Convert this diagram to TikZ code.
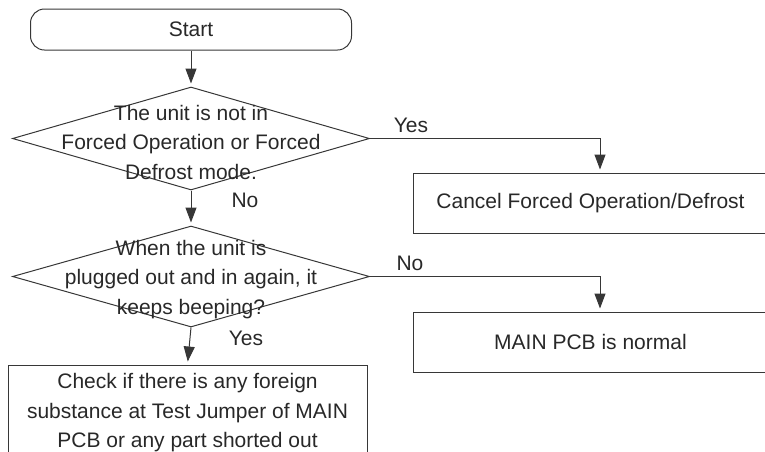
\documentclass[tikz,border=0pt]{standalone}
\usepackage{fontspec}
\setmainfont{Liberation Sans}
\usetikzlibrary{shapes.geometric,arrows.meta}
\definecolor{linec}{RGB}{55,55,55}
\definecolor{textc}{RGB}{40,40,40}
\begin{document}
\begin{tikzpicture}[x=1pt,y=-1pt,
  every node/.style={font=\fontsize{21}{29.5}\selectfont, text=textc},
  box/.style={draw=linec, line width=1pt, inner sep=0pt, align=center},
  decision/.style={diamond, draw=linec, line width=1pt, inner sep=0pt},
  lbl/.style={inner sep=0pt},
  flow/.style={draw=linec, line width=1pt, -{Triangle[length=15pt,width=11pt]}, shorten >=3pt}]
\useasboundingbox (0,0) rectangle (765,451);
\clip (0,0) rectangle (765,451);
% nodes
\node[box, rounded corners=14pt, minimum width=321pt, minimum height=41pt] (start) at (191,29.5) {Start};
\node[decision, minimum width=357pt, minimum height=103pt] (d1) at (191,138.5) {};
\node[align=center, inner sep=0pt] (t1) at (191,142) {The unit is not in\\Forced Operation or Forced\\Defrost mode.};
\node[decision, minimum width=357pt, minimum height=101pt] (d2) at (191,276.5) {};
\node[align=center, inner sep=0pt] (t2) at (191,279.5) {When the unit is\\plugged out and in again, it\\keeps beeping?};
\node[box, minimum width=355pt, minimum height=60pt] (cancel) at (590.5,203) {Cancel Forced Operation/Defrost};
\node[box, minimum width=355pt, minimum height=60pt] (main) at (590.5,342) {MAIN PCB is normal};
\node[box, minimum width=359pt, minimum height=96pt] (check) at (187.5,413) {Check if there is any foreign\\substance at Test Jumper of MAIN\\PCB or any part shorted out};
% labels
\node[lbl] (yes1) at (411,125) {Yes};
\node[lbl] (no1) at (245,200) {No};
\node[lbl] (no2) at (410,263) {No};
\node[lbl] (yes2) at (246,338) {Yes};
% connectors
\draw[flow] (start.south) -- (d1.north);
\draw[flow] (d1.south) -- (d2.north);
\draw[flow] (d2.south) -- (check.north);
\draw[flow] (d1.east) -| ([xshift=9.5pt]cancel.north);
\draw[flow] (d2.east) -| ([xshift=9.5pt]main.north);
\end{tikzpicture}
\end{document}
